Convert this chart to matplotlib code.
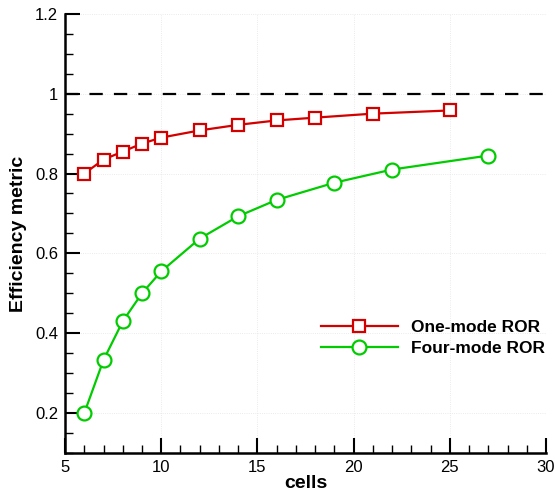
import matplotlib
matplotlib.use('Agg')
import matplotlib.pyplot as plt
from matplotlib.ticker import MultipleLocator

plt.rcParams['font.family'] = ['Liberation Sans', 'DejaVu Sans']

# data
one_cells = [6, 7, 8, 9, 10, 12, 14, 16, 18, 21, 25]
one_eff = [0.800, 0.835, 0.855, 0.875, 0.890, 0.908, 0.922, 0.933, 0.940, 0.950, 0.958]
four_cells = [6, 7, 8, 9, 10, 12, 14, 16, 19, 22, 27]
four_eff = [0.200, 0.333, 0.430, 0.500, 0.555, 0.637, 0.693, 0.734, 0.777, 0.810, 0.845]
reference = 1.0

fig = plt.figure(figsize=(5.56, 4.94), dpi=100)
ax = fig.add_axes([0.117, 0.083, 0.865, 0.889])

ax.axhline(reference, color='black', lw=1.6, dashes=(6, 5), zorder=1)
ax.plot(one_cells, one_eff, color='#d40000', lw=1.6, marker='s', ms=8.5,
        mfc='white', mec='#d40000', mew=1.6, label='One-mode ROR', zorder=3)
ax.plot(four_cells, four_eff, color='#00cc00', lw=1.6, marker='o', ms=10,
        mfc='white', mec='#00cc00', mew=1.6, label='Four-mode ROR', zorder=3)

ax.set_xlim(5, 30)
ax.set_ylim(0.1, 1.2)
ax.xaxis.set_major_locator(MultipleLocator(5))
ax.xaxis.set_minor_locator(MultipleLocator(1))
ax.yaxis.set_major_locator(MultipleLocator(0.2))
ax.yaxis.set_minor_locator(MultipleLocator(0.05))
ax.set_yticks([0.2, 0.4, 0.6, 0.8, 1.0, 1.2])
ax.set_yticklabels(['0.2', '0.4', '0.6', '0.8', '1', '1.2'])

ax.grid(True, which='major', color='#e4e4e4', lw=0.6, ls=':')
ax.set_axisbelow(True)

for s in ['top', 'right']:
    ax.spines[s].set_visible(False)
for s in ['left', 'bottom']:
    ax.spines[s].set_linewidth(1.8)

ax.tick_params(which='major', direction='in', length=11, width=1.5, labelsize=12, pad=5)
ax.tick_params(which='minor', direction='in', length=6, width=1.0)

ax.set_xlabel('cells', fontsize=14, fontweight='bold', labelpad=0)
ax.set_ylabel('Efficiency metric', fontsize=14, fontweight='bold', labelpad=6)

ax.legend(loc='center left', bbox_to_anchor=(0.5, 0.262), frameon=False,
          prop={'size': 12.5, 'weight': 'bold'}, handlelength=4.4,
          handletextpad=0.75, labelspacing=0.3)

fig.savefig('out.png', dpi=100)
